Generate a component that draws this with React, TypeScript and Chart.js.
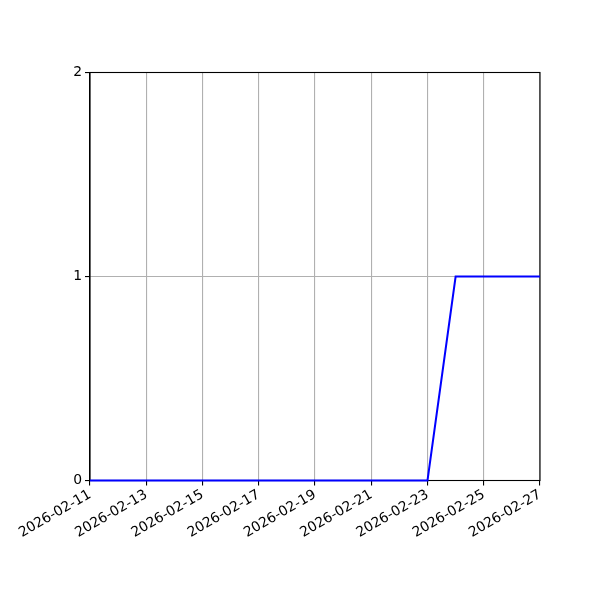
import React, { useEffect, useRef } from "react";
import { Chart, registerables } from "chart.js";

Chart.register(...registerables);

const dates = [
  "2026-02-11", "2026-02-12", "2026-02-13", "2026-02-14", "2026-02-15",
  "2026-02-16", "2026-02-17", "2026-02-18", "2026-02-19", "2026-02-20",
  "2026-02-21", "2026-02-22", "2026-02-23", "2026-02-24", "2026-02-25",
  "2026-02-26", "2026-02-27",
];
const values = [0, 0, 0, 0, 0, 0, 0, 0, 0, 0, 0, 0, 0, 1, 1, 1, 1];
const yTicks = [0, 1, 2];

const framePlugin = {
  id: "frame",
  beforeDatasetsDraw(chart: any) {
    const { ctx, chartArea } = chart;
    ctx.save();
    ctx.strokeStyle = "#000";
    ctx.lineWidth = 1.1;
    ctx.strokeRect(chartArea.left, chartArea.top, chartArea.right - chartArea.left, chartArea.bottom - chartArea.top);
    ctx.restore();
  },
};

export default function App() {
  const ref = useRef<HTMLCanvasElement>(null);
  useEffect(() => {
    document.body.style.margin = "0";
    const chart = new Chart(ref.current!, {
      type: "line",
      data: {
        datasets: [
          {
            data: values.map((v, i) => ({ x: i, y: v })),
            borderColor: "#0000ff",
            borderWidth: 2,
            pointRadius: 0,
            tension: 0,
            fill: false,
            clip: false,
          },
        ],
      },
      options: {
        animation: false,
        responsive: false,
        layout: { padding: { top: 72.5, right: 60, left: 0, bottom: 0 } },
        plugins: { legend: { display: false }, tooltip: { enabled: false } },
        scales: {
          x: {
            type: "linear",
            min: 0,
            max: dates.length - 1,
            afterFit: (s: any) => { s.height = 119.5; },
            afterBuildTicks: (s: any) => {
              s.ticks = dates.map((_, i) => ({ value: i })).filter((t) => t.value % 2 === 0);
            },
            grid: { color: "#b0b0b0", lineWidth: 1.1, tickColor: "#000", tickLength: 5 },
            border: { color: "#000", width: 1.1 },
            ticks: {
              color: "#000",
              font: { family: "DejaVu Sans", size: 13.9 },
              maxRotation: 30,
              minRotation: 30,
              autoSkip: false,
              padding: 1,
              callback: (v: any) => dates[v],
            },
          },
          y: {
            min: 0,
            max: 2,
            afterFit: (s: any) => { s.width = 90; },
            afterBuildTicks: (s: any) => { s.ticks = yTicks.map((v) => ({ value: v })); },
            grid: { color: "#b0b0b0", lineWidth: 1.1, tickColor: "#000", tickLength: 5 },
            border: { color: "#000", width: 1.1 },
            ticks: {
              color: "#000",
              font: { family: "DejaVu Sans", size: 13.9 },
              padding: 3,
            },
          },
        },
      },
      plugins: [framePlugin],
    });
    return () => chart.destroy();
  }, []);
  return (
    <div style={{ width: 600, height: 600, background: "#fff" }}>
      <canvas ref={ref} width={600} height={600} />
    </div>
  );
}
